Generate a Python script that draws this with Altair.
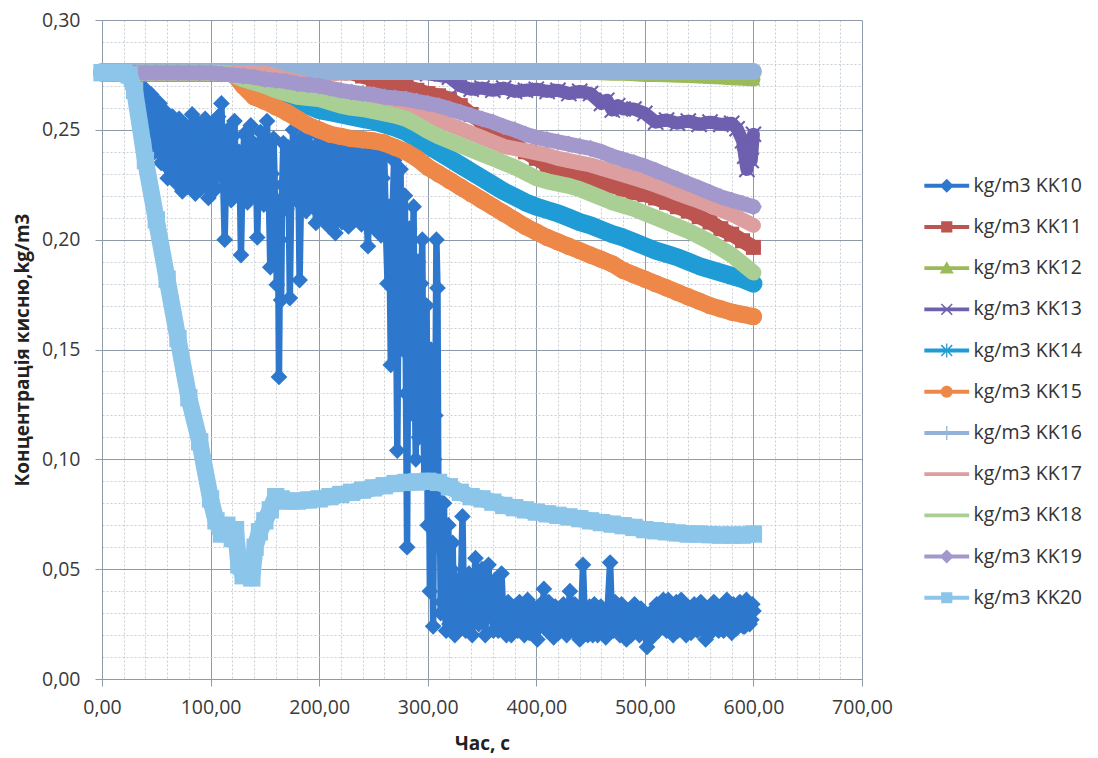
import altair as alt
import pandas as pd

NAMES = ["kg/m3 KK10", "kg/m3 KK11", "kg/m3 KK12", "kg/m3 KK13", "kg/m3 KK14", "kg/m3 KK15",
         "kg/m3 KK16", "kg/m3 KK17", "kg/m3 KK18", "kg/m3 KK19", "kg/m3 KK20"]
COLORS = ["#2D78CD", "#BC5450", "#9BBB59", "#6E5FAF", "#1F9BD5", "#EE8848",
          "#93B2DA", "#DC9E9E", "#A9CF95", "#A398CC", "#8CC5EA"]

TIME = list(range(0, 601, 10))

KK11 = [0.276, 0.276, 0.276, 0.276, 0.276, 0.276, 0.276, 0.276, 0.276, 0.276, 0.276, 0.276,
        0.276, 0.276, 0.276, 0.276, 0.276, 0.276, 0.276, 0.276, 0.276, 0.276, 0.276, 0.276,
        0.2745, 0.273, 0.2715, 0.2705, 0.2695, 0.268, 0.2665, 0.2655, 0.264, 0.261, 0.257, 0.2535,
        0.250, 0.2465, 0.2435, 0.240, 0.237, 0.234, 0.232, 0.2305, 0.2295, 0.2285, 0.2265, 0.2245,
        0.223, 0.2215, 0.2205, 0.219, 0.217, 0.215, 0.213, 0.2105, 0.208, 0.205, 0.2025, 0.1995, 0.1965]
KK12 = [0.276, 0.276, 0.276, 0.276, 0.276, 0.276, 0.276, 0.276, 0.276, 0.276, 0.276, 0.276,
        0.276, 0.276, 0.276, 0.276, 0.276, 0.276, 0.276, 0.276, 0.276, 0.276, 0.276, 0.276,
        0.276, 0.276, 0.276, 0.276, 0.276, 0.276, 0.276, 0.276, 0.276, 0.276, 0.276, 0.276,
        0.276, 0.276, 0.276, 0.276, 0.276, 0.276, 0.276, 0.276, 0.276, 0.276,
        0.2757, 0.2755, 0.2755, 0.2753, 0.275, 0.275, 0.2748, 0.2746, 0.2745, 0.2743, 0.274,
        0.2738, 0.2735, 0.2732, 0.273]
KK14 = [0.276, 0.276, 0.276, 0.276, 0.276, 0.276, 0.276, 0.276, 0.276, 0.276, 0.276, 0.276, 0.276,
        0.2755, 0.2745, 0.272, 0.269, 0.266, 0.2635, 0.261, 0.259, 0.258, 0.257, 0.256, 0.255,
        0.254, 0.2525, 0.251, 0.249, 0.246, 0.243, 0.240, 0.237, 0.234, 0.231, 0.228, 0.225,
        0.222, 0.2195, 0.217, 0.215, 0.2135, 0.212, 0.210, 0.208, 0.2065, 0.2045, 0.2025, 0.201,
        0.199, 0.197, 0.195, 0.1935, 0.192, 0.190, 0.188, 0.1865, 0.185, 0.1835, 0.182, 0.180]
KK15 = [0.276, 0.276, 0.276, 0.276, 0.276, 0.276, 0.276, 0.276, 0.276, 0.276, 0.276, 0.276, 0.276,
        0.270, 0.265, 0.263, 0.2605, 0.258, 0.255, 0.252, 0.250, 0.248, 0.247, 0.246, 0.2455,
        0.245, 0.244, 0.242, 0.240, 0.237, 0.233, 0.230, 0.227, 0.224, 0.221, 0.218, 0.215,
        0.212, 0.209, 0.206, 0.2035, 0.201, 0.199, 0.197, 0.195, 0.193, 0.191, 0.189, 0.186,
        0.184, 0.182, 0.180, 0.178, 0.176, 0.174, 0.172, 0.170, 0.1685, 0.167, 0.166, 0.165]
KK16 = [0.2765, 0.2765, 0.2765, 0.2765, 0.2765, 0.2765, 0.2765, 0.2765, 0.2765, 0.2765, 0.2765,
        0.2765, 0.2765, 0.2765, 0.2765, 0.2765, 0.2765, 0.2765, 0.2765, 0.2765, 0.2765, 0.2765,
        0.2765, 0.2765, 0.2765, 0.2765, 0.2765, 0.2765, 0.2765, 0.2765, 0.2765, 0.2765, 0.2765,
        0.2765, 0.2765, 0.2765, 0.2765, 0.2765, 0.2765, 0.2765, 0.2765, 0.2765, 0.2765, 0.2765,
        0.2765, 0.2765, 0.2765, 0.2765, 0.2765, 0.2765, 0.2765, 0.2765, 0.2765, 0.2765, 0.2765,
        0.2765, 0.2765, 0.2765, 0.2765, 0.2765, 0.2765]
KK17 = [0.276, 0.276, 0.276, 0.276, 0.276, 0.276, 0.276, 0.276, 0.276, 0.276, 0.276, 0.276,
        0.276, 0.276, 0.276, 0.276,
        0.2745, 0.273, 0.272, 0.2705, 0.269, 0.268, 0.2665, 0.2655, 0.2645, 0.2635, 0.2625,
        0.261, 0.2595, 0.258, 0.256, 0.2545, 0.2525, 0.2505, 0.2485, 0.2465, 0.2445, 0.2425,
        0.2415, 0.2405, 0.2395, 0.2385, 0.237, 0.236, 0.235, 0.234, 0.2325, 0.231, 0.2295,
        0.228, 0.2265, 0.2248, 0.223, 0.221, 0.2192, 0.2175, 0.2155, 0.2135, 0.2115, 0.209, 0.2065]
KK18 = [0.276, 0.276, 0.276, 0.276, 0.276, 0.276, 0.276, 0.276, 0.276, 0.276, 0.276, 0.276,
        0.275, 0.273, 0.2715, 0.270, 0.268, 0.2665, 0.265, 0.2645, 0.264, 0.2625, 0.261, 0.260,
        0.2595, 0.2585, 0.2575, 0.2565, 0.255, 0.2525, 0.2495, 0.247, 0.245, 0.243, 0.241,
        0.239, 0.237, 0.235, 0.233, 0.2305, 0.228, 0.2265, 0.2255, 0.2245, 0.223, 0.221, 0.219,
        0.217, 0.2155, 0.214, 0.212, 0.210, 0.208, 0.206, 0.204, 0.2015, 0.199, 0.196, 0.193,
        0.189, 0.185]
KK19 = [0.276, 0.276, 0.276, 0.276, 0.276, 0.276, 0.276, 0.276, 0.276, 0.276, 0.276,
        0.2755, 0.275, 0.2745, 0.274, 0.273, 0.2725, 0.272, 0.271, 0.2705, 0.270, 0.269, 0.268,
        0.2672, 0.2665, 0.266, 0.265, 0.2645, 0.264, 0.263, 0.262, 0.261, 0.2595, 0.258, 0.2565,
        0.255, 0.2535, 0.2515, 0.250, 0.248, 0.2465, 0.2455, 0.2445, 0.2435, 0.2425, 0.2415,
        0.240, 0.238, 0.2365, 0.235, 0.2335, 0.2315, 0.2295, 0.2275, 0.2255, 0.2235, 0.2215,
        0.2195, 0.218, 0.2165, 0.215]

# KK10: (time, value) pairs
KK10_POINTS = [
    (0, 0.276), (10, 0.276), (20, 0.276), (30, 0.276), (38, 0.2755), (39.5, 0.262), (41, 0.268),
    (42.5, 0.250), (44, 0.255), (45.5, 0.266), (47, 0.264), (48.5, 0.240), (50, 0.247),
    (51.5, 0.258), (53, 0.262), (54.5, 0.235), (56, 0.238), (57.5, 0.252), (59, 0.258),
    (60.5, 0.228), (62, 0.232), (63.5, 0.250), (65, 0.256), (66.5, 0.230), (68, 0.226),
    (69.5, 0.249), (71, 0.255), (72.5, 0.232), (74, 0.222), (75.5, 0.244), (77, 0.252),
    (78.5, 0.224), (80, 0.225), (81.5, 0.250), (83, 0.257), (84.5, 0.229), (86, 0.221),
    (87.5, 0.245), (89, 0.253), (90.5, 0.223), (92, 0.228), (93.5, 0.251), (95, 0.255),
    (96.5, 0.226), (98, 0.219), (99.5, 0.246), (101, 0.252), (102.5, 0.222), (104, 0.224),
    (105.5, 0.248), (107, 0.256), (108.5, 0.230), (110, 0.262), (111.5, 0.228), (113, 0.200),
    (114.5, 0.236), (116, 0.250), (117.5, 0.222), (119, 0.218), (120.5, 0.247), (122, 0.254),
    (123.5, 0.226), (125, 0.222), (126.5, 0.240), (128, 0.193), (129.5, 0.232), (131, 0.248),
    (132.5, 0.220), (134, 0.217), (135.5, 0.246), (137, 0.252), (138.5, 0.224), (140, 0.220),
    (141.5, 0.243), (143, 0.201), (144.5, 0.230), (146, 0.249), (147.5, 0.221), (149, 0.216),
    (150.5, 0.245), (152, 0.254), (153.5, 0.224), (155, 0.1875), (156.5, 0.230), (158, 0.246),
    (159.5, 0.218), (161, 0.1795), (162, 0.215), (163, 0.1375), (164, 0.200), (165, 0.1725),
    (166, 0.225), (167, 0.244), (168.5, 0.220), (170, 0.214), (171.5, 0.242), (173, 0.1734),
    (174.5, 0.228), (176, 0.250), (177.5, 0.222), (179, 0.218), (180.5, 0.244), (182, 0.1816),
    (183.5, 0.226), (185, 0.247), (186.5, 0.220), (188, 0.213), (189.5, 0.240), (191, 0.249),
    (192.5, 0.222), (194, 0.215), (195.5, 0.242), (197, 0.2076), (198.5, 0.235), (200, 0.247),
    (201.5, 0.218), (203, 0.210), (204.5, 0.238), (206, 0.245), (207.5, 0.215), (209, 0.206),
    (210.5, 0.236), (212, 0.246), (213.5, 0.220), (215, 0.203), (216.5, 0.232), (218, 0.244),
    (219.5, 0.214), (221, 0.208), (222.5, 0.237), (224, 0.246), (225.5, 0.218), (227, 0.206),
    (228.5, 0.234), (230, 0.243), (231.5, 0.216), (233, 0.210), (234.5, 0.238), (236, 0.245),
    (237.5, 0.214), (239, 0.207), (240.5, 0.232), (242, 0.241), (243.5, 0.212), (245, 0.197),
    (246.5, 0.228), (248, 0.240), (249.5, 0.210), (251, 0.205), (252.5, 0.230), (254, 0.238),
    (255.5, 0.212), (257, 0.202), (258.5, 0.228), (260, 0.238), (261.5, 0.205), (263, 0.180),
    (264.5, 0.215), (266, 0.143), (267.5, 0.210), (269, 0.236), (270.5, 0.190), (272, 0.104),
    (273.5, 0.200), (275, 0.232), (276, 0.175), (277, 0.150), (278, 0.200), (279, 0.220),
    (280, 0.130), (281, 0.060), (282, 0.160), (283, 0.205), (284, 0.170), (285, 0.121),
    (286, 0.180), (287, 0.215), (288, 0.140), (289, 0.100), (290, 0.170), (291, 0.190),
    (292, 0.110), (293, 0.140), (294, 0.180), (295, 0.200), (296, 0.120), (297, 0.090),
    (298, 0.150), (299, 0.170), (300, 0.070), (301, 0.110), (302, 0.040), (303, 0.150),
    (304, 0.090), (305, 0.024), (306, 0.100), (307, 0.120), (308, 0.200), (309, 0.178),
    (310, 0.060), (311, 0.090), (312, 0.030), (313, 0.035), (314, 0.065), (315, 0.080),
    (316, 0.030), (317, 0.022), (318, 0.055), (319, 0.070), (320, 0.025), (321, 0.028),
    (322, 0.050), (323, 0.062), (324, 0.030), (325, 0.020), (326, 0.040), (327, 0.045),
    (328, 0.022), (329, 0.025), (330.5, 0.040), (332, 0.074), (333.5, 0.030), (335, 0.022),
    (336.5, 0.035), (338, 0.048), (339.5, 0.030), (341, 0.020), (342.5, 0.036), (344, 0.055),
    (345.5, 0.032), (347, 0.025), (348.5, 0.038), (350, 0.050), (351.5, 0.030), (353, 0.020),
    (354.5, 0.036), (356, 0.052), (357.5, 0.033), (359, 0.028), (360.5, 0.022), (362, 0.045),
    (363.5, 0.030), (365, 0.022), (366.5, 0.034), (368, 0.048), (369.5, 0.030), (371, 0.026),
    (372.5, 0.020), (374, 0.035), (375.5, 0.028), (377, 0.020), (378.5, 0.030), (380, 0.033),
    (381.5, 0.026), (383, 0.022), (384.5, 0.035), (386, 0.032), (387.5, 0.024), (389, 0.020),
    (390.5, 0.029), (392, 0.036), (393.5, 0.021), (395, 0.024), (396.5, 0.033), (398, 0.030),
    (399.5, 0.022), (401, 0.018), (402.5, 0.028), (404, 0.034), (405.5, 0.025), (407, 0.041),
    (408.5, 0.028), (410, 0.022), (411.5, 0.035), (413, 0.032), (414.5, 0.024), (416, 0.019),
    (417.5, 0.033), (419, 0.030), (420.5, 0.021), (422, 0.025), (423.5, 0.032), (425, 0.034),
    (426.5, 0.023), (428, 0.020), (429.5, 0.030), (431, 0.040), (432.5, 0.026), (434, 0.022),
    (435.5, 0.034), (437, 0.030), (438.5, 0.022), (440, 0.018), (441.5, 0.030), (443, 0.052),
    (444.5, 0.030), (446, 0.024), (447.5, 0.020), (449, 0.033), (450.5, 0.026), (452, 0.020),
    (453.5, 0.034), (455, 0.030), (456.5, 0.020), (458, 0.022), (459.5, 0.033), (461, 0.028),
    (462.5, 0.022), (464, 0.019), (465.5, 0.030), (468, 0.053), (469.5, 0.030), (471, 0.022),
    (472.5, 0.035), (474, 0.032), (475.5, 0.024), (477, 0.020), (478.5, 0.034), (480, 0.029),
    (481.5, 0.022), (483, 0.018), (484.5, 0.030), (486, 0.031), (487.5, 0.020), (489, 0.022),
    (490.5, 0.034), (492, 0.030), (493.5, 0.024), (495, 0.020), (496.5, 0.032), (498, 0.027),
    (500, 0.021), (502, 0.0146), (503.5, 0.026), (505, 0.030), (506.5, 0.019), (508, 0.022),
    (509.5, 0.030), (511, 0.034), (512.5, 0.022), (514, 0.024), (515.5, 0.032), (517, 0.036),
    (518.5, 0.026), (520, 0.022), (521.5, 0.036), (523, 0.033), (524.5, 0.024), (526, 0.020),
    (527.5, 0.030), (529, 0.035), (530.5, 0.022), (532, 0.024), (533.5, 0.036), (535, 0.032),
    (536.5, 0.024), (538, 0.020), (539.5, 0.033), (541, 0.030), (542.5, 0.021), (544, 0.022),
    (545.5, 0.034), (547, 0.033), (548.5, 0.022), (550, 0.025), (551.5, 0.035), (553, 0.030),
    (554.5, 0.022), (556, 0.018), (557.5, 0.029), (559, 0.032), (560.5, 0.021), (562, 0.024),
    (563.5, 0.035), (565, 0.034), (566.5, 0.024), (568, 0.022), (569.5, 0.033), (571, 0.031),
    (572.5, 0.022), (574, 0.025), (575.5, 0.036), (577, 0.033), (578.5, 0.024), (580, 0.021),
    (581.5, 0.034), (583, 0.030), (584.5, 0.023), (586, 0.026), (587.5, 0.035), (589, 0.034),
    (590.5, 0.024), (592, 0.024), (593.5, 0.036), (595, 0.033), (596.5, 0.025), (598, 0.027),
    (599, 0.034), (600, 0.031),
]
KK10_T = [p[0] for p in KK10_POINTS]
KK10_V = [p[1] for p in KK10_POINTS]

KK13_T = [0, 100, 200, 300, 320, 330, 340, 350, 360, 370, 380, 390, 400, 410, 420, 430, 440, 450,
          460, 465, 470, 475, 480, 490, 500, 510, 520, 530, 540, 550, 560, 570, 580, 585, 590,
          592, 594, 596, 598, 600]
KK13_V = [0.276, 0.276, 0.276, 0.2755, 0.274, 0.270, 0.2685, 0.269, 0.268, 0.269, 0.2675, 0.268,
          0.2685, 0.2675, 0.268, 0.2665, 0.2675, 0.2665, 0.262, 0.2635, 0.259, 0.261, 0.2595,
          0.2595, 0.2575, 0.2535, 0.2545, 0.2530, 0.2540, 0.2525, 0.2535, 0.2525, 0.2530,
          0.2505, 0.2450, 0.2380, 0.2320, 0.2440, 0.2360, 0.2480]

KK20_T = [0, 10, 20, 25, 30, 40, 50, 60, 70, 80, 90, 100, 105, 110, 115, 120, 123, 126, 130, 134,
          138, 141, 145, 150, 155, 160, 165, 170, 180, 190, 200, 210, 220, 230, 240, 250, 260,
          270, 280, 290, 300, 310, 320, 330, 340, 350, 360, 370, 380, 390, 400, 410, 420, 430,
          440, 450, 460, 470, 480, 490, 500, 510, 520, 530, 540, 550, 560, 570, 580, 590, 600]
KK20_V = [0.276, 0.276, 0.276, 0.275, 0.268, 0.236, 0.209, 0.182, 0.155, 0.128, 0.108, 0.082,
          0.072, 0.066, 0.070, 0.064, 0.068, 0.052, 0.047, 0.052, 0.046, 0.060, 0.067, 0.072,
          0.077, 0.083, 0.082, 0.081, 0.081, 0.0815, 0.082, 0.083, 0.084, 0.085, 0.086, 0.087,
          0.088, 0.089, 0.0895, 0.0897, 0.090, 0.0895, 0.0875, 0.085, 0.083, 0.082, 0.0805,
          0.079, 0.078, 0.077, 0.076, 0.0752, 0.0745, 0.0738, 0.073, 0.072, 0.0712, 0.0705,
          0.0698, 0.069, 0.068, 0.0675, 0.067, 0.0665, 0.066, 0.066, 0.0657, 0.0655, 0.0655,
          0.0655, 0.066]

SERIES = {
    "kg/m3 KK10": (KK10_T, KK10_V),
    "kg/m3 KK11": (TIME, KK11),
    "kg/m3 KK12": (TIME, KK12),
    "kg/m3 KK13": (KK13_T, KK13_V),
    "kg/m3 KK14": (TIME, KK14),
    "kg/m3 KK15": (TIME, KK15),
    "kg/m3 KK16": (TIME, KK16),
    "kg/m3 KK17": (TIME, KK17),
    "kg/m3 KK18": (TIME, KK18),
    "kg/m3 KK19": (TIME, KK19),
    "kg/m3 KK20": (KK20_T, KK20_V),
}

rows = []
for name in NAMES:
    ts, vs = SERIES[name]
    assert len(ts) == len(vs), name
    for t, v in zip(ts, vs):
        rows.append({"s": name, "t": t, "v": v})
df = pd.DataFrame(rows)

# symbol paths (unit square) for markers / legend
LINE = "M-3.2,-0.28L3.2,-0.28L3.2,0.28L-3.2,0.28Z"
DIAM = "M0,-1L1,0L0,1L-1,0Z"
SQ = "M-0.8,-0.8L0.8,-0.8L0.8,0.8L-0.8,0.8Z"
TRI = "M0,-1L1,0.75L-1,0.75Z"
XS = ("M-0.85,-0.7L-0.7,-0.85L0,-0.15L0.7,-0.85L0.85,-0.7L0.15,0L0.85,0.7L0.7,0.85"
      "L0,0.15L-0.7,0.85L-0.85,0.7L-0.15,0Z")
VBAR = "M-0.09,-1L0.09,-1L0.09,1L-0.09,1Z"
CIRC = "M-0.85,0A0.85,0.85 0 1,1 0.85,0A0.85,0.85 0 1,1 -0.85,0Z"
LEG_PATHS = [LINE + DIAM, LINE + SQ, LINE + TRI, LINE + XS, LINE + XS + VBAR, LINE + CIRC,
             LINE + VBAR, LINE, LINE, LINE + DIAM, LINE + SQ]

# style per series: line width, marker shape, marker size
STYLE = {
    "kg/m3 KK10": (6.5, DIAM, 280),
    "kg/m3 KK11": (15, "square", 225),
    "kg/m3 KK12": (14, "triangle-up", 200),
    "kg/m3 KK13": (13, XS, 380),
    "kg/m3 KK14": (18, None, 0),
    "kg/m3 KK15": (17, "circle", 300),
    "kg/m3 KK16": (17, None, 0),
    "kg/m3 KK17": (15, None, 0),
    "kg/m3 KK18": (16, None, 0),
    "kg/m3 KK19": (15, "diamond", 300),
    "kg/m3 KK20": (17, "square", 300),
}

XMAJ = "round(datum.value) % 100 === 0"
YMAJ = "round(datum.value * 100) % 5 === 0"
MAJ_C = "#8E9AA7"
MIN_C = "#C9CED4"
FONT = "Open Sans"

X = alt.X(
    "t:Q",
    scale=alt.Scale(domain=[0, 700], nice=False, zero=False),
    title="Час, с",
    axis=alt.Axis(
        values=list(range(0, 701, 20)),
        grid=True,
        gridColor={"condition": {"test": XMAJ, "value": MAJ_C}, "value": MIN_C},
        gridDash={"condition": {"test": XMAJ, "value": []}, "value": [2, 2]},
        gridWidth=1,
        tickOpacity={"condition": {"test": XMAJ, "value": 1}, "value": 0},
        tickColor=MAJ_C, tickSize=7, domainColor=MAJ_C,
        labelExpr=f"{XMAJ} ? replace(format(datum.value, '.2f'), '.', ',') : ''",
        labelFont=FONT, labelFontSize=19.5, labelColor="#3A3A3A", labelPadding=12,
        labelOverlap=False, labelFlush=False,
        titleFont=FONT, titleFontSize=19, titleFontWeight="bold", titleColor="#222222",
        titlePadding=18,
    ),
)
Y = alt.Y(
    "v:Q",
    scale=alt.Scale(domain=[0, 0.30], nice=False, zero=False),
    title="Концентрація кисню,kg/m3",
    axis=alt.Axis(
        values=[round(i * 0.01, 2) for i in range(31)],
        grid=True,
        gridColor={"condition": {"test": YMAJ, "value": MAJ_C}, "value": MIN_C},
        gridDash={"condition": {"test": YMAJ, "value": []}, "value": [2, 2]},
        gridWidth=1,
        tickOpacity={"condition": {"test": YMAJ, "value": 1}, "value": 0},
        tickColor=MAJ_C, tickSize=7, domainColor=MAJ_C,
        labelExpr=f"{YMAJ} ? replace(format(datum.value, '.2f'), '.', ',') : ''",
        labelFont=FONT, labelFontSize=19.5, labelColor="#3A3A3A", labelPadding=15,
        labelOverlap=False, labelFlush=False,
        titleFont=FONT, titleFontSize=19, titleFontWeight="bold", titleColor="#222222",
        titlePadding=9,
    ),
)

base = alt.Chart(df)
layers = []
for name, color in zip(NAMES, COLORS):
    lw, shape, size = STYLE[name]
    sub = base.transform_filter(alt.datum.s == name)
    layers.append(
        sub.mark_line(color=color, strokeWidth=lw, strokeJoin="round", strokeCap="round")
        .encode(x=X, y=Y)
    )
    if shape:
        layers.append(
            sub.mark_point(shape=shape, size=size, filled=True, color=color, opacity=1,
                           strokeWidth=0)
            .encode(x=X, y=Y)
        )

legend = alt.Legend(
    title=None, orient="none", legendX=835, legendY=156, padding=0,
    symbolSize=196, symbolStrokeWidth=0, symbolOpacity=1,
    labelFont=FONT, labelFontSize=19.5, labelColor="#333333", labelOffset=17,
    rowPadding=20.2, symbolLimit=0, labelLimit=300,
)
leg_df = pd.DataFrame({"s": NAMES, "t": KK10_T[:1] * len(NAMES), "v": KK10_V[:1] * len(NAMES)})
leg_layer = alt.Chart(leg_df).mark_point(filled=True, opacity=0).encode(
    x=X, y=Y,
    color=alt.Color("s:N", scale=alt.Scale(domain=NAMES, range=COLORS), legend=legend),
    shape=alt.Shape("s:N", scale=alt.Scale(domain=NAMES, range=LEG_PATHS), legend=legend),
)

chart = (
    alt.layer(*layers, leg_layer)
    .properties(width=760, height=659,
                padding={"left": 13, "top": 10, "right": 5, "bottom": 5},
                background="white")
    .configure_view(stroke=None)
)

chart.save("out.html", embed_options={"renderer": "svg", "actions": False})
